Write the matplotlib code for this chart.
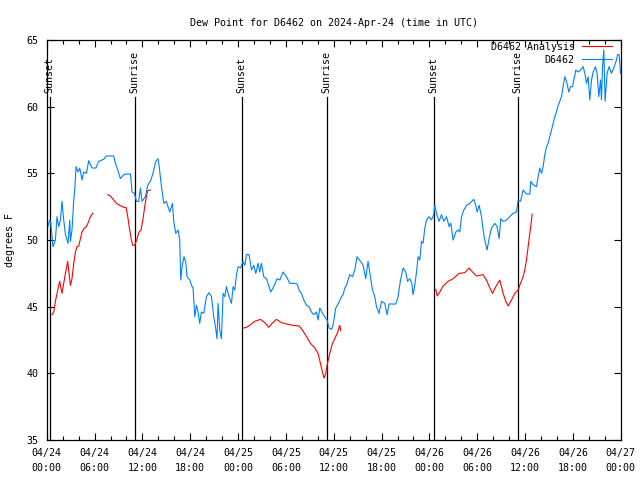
import numpy as np
import pandas as pd
import matplotlib
matplotlib.use('Agg')
import matplotlib.pyplot as plt
import matplotlib.dates as mdates

start = pd.Timestamp('2024-04-24 00:00')

# observed dew point (hours since 04/24 00:00 UTC, deg F)
obs_hours = [0.13, 0.38, 0.5, 0.79, 1.09, 1.29, 1.51, 1.72, 1.92, 2.13, 2.35, 2.67, 2.89, 2.97, 3.17,
             3.39, 3.51, 3.68, 3.93, 4.14, 4.43, 4.64, 4.98, 5.27, 5.68, 6.18, 6.52, 7.15, 7.44, 8.4,
             8.62, 8.91, 9.24, 9.66, 10.0, 10.5, 10.7, 11.0, 11.25, 11.54, 11.75, 11.95, 12.38, 12.67,
             13.0, 13.33, 13.67, 13.96, 14.09, 14.39, 14.68, 15.0, 15.43, 15.77, 15.93, 16.18, 16.47,
             16.68, 16.81, 16.97, 17.22, 17.44, 17.6, 17.94, 18.15, 18.35, 18.57, 18.78, 18.98, 19.19,
             19.4, 19.69, 20.03, 20.36, 20.66, 20.95, 21.16, 21.36, 21.49, 21.7, 21.91, 22.12, 22.33,
             22.54, 22.87, 23.17, 23.37, 23.58, 23.8, 24.0, 24.3, 24.62, 24.84, 25.05, 25.38, 25.68,
             25.97, 26.22, 26.51, 26.72, 26.93, 27.22, 27.56, 27.89, 28.1, 28.47, 28.89, 29.23, 29.64,
             30.07, 30.48, 31.11, 31.4, 31.65, 31.95, 32.24, 32.58, 32.9, 33.2, 33.49, 33.83, 34.03,
             34.25, 34.58, 34.87, 35.16, 35.41, 35.71, 35.91, 36.25, 36.59, 36.97, 37.17, 37.38, 37.59,
             38.0, 38.35, 38.64, 38.92, 39.35, 39.68, 40.01, 40.3, 40.6, 40.86, 41.14, 41.36, 41.68,
             41.99, 42.4, 42.69, 42.94, 43.78, 44.07, 44.37, 44.7, 45.03, 45.25, 45.53, 45.79, 45.95,
             46.16, 46.38, 46.58, 46.79, 47.0, 47.2, 47.42, 47.63, 47.95, 48.25, 48.54, 48.67, 48.88,
             49.21, 49.51, 49.8, 50.14, 50.47, 50.68, 50.97, 51.31, 51.6, 51.81, 52.02, 52.31, 52.65,
             53.06, 53.56, 53.81, 53.98, 54.23, 54.53, 54.73, 54.94, 55.23, 55.48, 55.78, 56.2, 56.48,
             56.74, 56.95, 57.24, 57.66, 58.08, 58.49, 58.92, 59.12, 59.42, 59.75, 60.17, 60.59, 60.71,
             61.0, 61.43, 61.63, 61.84, 62.05, 62.26, 62.47, 62.68, 62.88, 63.1, 63.31, 63.51, 63.72,
             63.93, 64.14, 64.35, 64.56, 64.76, 64.98, 65.19, 65.48, 65.69, 65.94, 66.11, 66.36, 66.65,
             66.95, 67.27, 67.49, 67.7, 67.9, 68.11, 68.33, 68.53, 68.83, 69.03, 69.24, 69.46, 69.58,
             69.71, 69.87, 70.03, 70.28, 70.53, 70.83, 71.12, 71.46, 71.59, 71.79, 71.97]
obs_vals = [51.0, 51.5, 51.3, 49.5, 50.0, 51.75, 51.0, 51.5, 52.9, 51.5, 50.4, 49.75, 51.5, 49.9, 50.75,
            53.0, 53.75, 55.5, 55.1, 55.4, 54.5, 55.1, 55.0, 55.95, 55.4, 55.4, 55.9, 56.05, 56.3, 56.3,
            55.75, 55.25, 54.6, 54.9, 54.95, 54.95, 53.6, 53.5, 52.9, 52.9, 53.9, 52.9, 53.25, 54.1,
            54.4, 55.0, 55.9, 56.1, 55.6, 54.0, 52.75, 52.9, 52.1, 52.75, 51.4, 50.5, 50.75,
            50.0, 47.0, 48.0, 48.75, 48.3, 47.25, 47.0, 46.6, 46.4, 44.25, 45.1, 44.6, 43.75,
            44.6, 44.5, 45.75, 46.05, 45.75, 44.25, 43.5, 42.6, 45.25, 43.25, 42.6, 46.0, 45.75,
            46.5, 45.75, 45.25, 46.5, 46.25, 47.4, 48.0, 47.9, 48.4, 48.1, 48.9, 48.9, 47.75,
            48.1, 47.5, 48.25, 47.6, 48.25, 47.25, 47.1, 46.5, 46.1, 46.5, 47.1, 47.0, 47.6,
            47.25, 46.75, 46.75, 46.7, 46.25, 46.0, 45.5, 45.1, 45.0, 44.6, 44.4, 44.6, 44.0,
            44.9, 44.5, 44.25, 44.0, 43.4, 43.3, 43.6, 44.9, 45.25, 45.75, 45.9, 46.4, 46.6,
            47.4, 47.25, 47.75, 48.75, 48.4, 48.1, 47.1, 48.4, 47.25, 46.25, 45.75, 45.0, 44.5,
            45.4, 45.25, 44.4, 45.2, 45.2, 45.75, 47.0, 47.9, 47.6, 46.9, 47.1, 46.75, 45.9,
            46.6, 47.6, 48.75, 48.5, 49.9, 49.75, 50.9, 51.5, 51.75, 51.5, 51.9, 52.6, 52.0,
            51.4, 51.9, 51.4, 51.75, 51.0, 51.25, 50.0, 50.6, 50.75, 50.6, 51.75, 52.25, 52.6,
            52.75, 53.05, 52.6, 52.1, 52.6, 51.75, 50.75, 50.0, 49.25, 50.1, 50.9, 51.25, 51.0,
            50.1, 51.6, 51.4, 51.5, 51.75, 52.0, 52.1, 53.0, 52.9, 53.75, 53.45, 53.45, 54.4,
            54.15, 54.0, 54.75, 55.4, 55.0, 55.5, 56.4, 57.0, 57.25, 57.75, 58.25, 58.75, 59.25,
            59.6, 60.1, 60.4, 60.75, 61.5, 62.25, 61.9, 61.1, 61.5, 61.5, 62.0, 62.75, 62.6,
            62.75, 63.0, 62.5, 61.75, 62.25, 60.5, 62.0, 62.6, 63.0, 62.5, 60.75, 62.0, 60.5,
            63.0, 64.25, 60.4, 62.5, 63.0, 62.5, 62.9, 63.5, 63.9, 63.9, 62.5]

# analysis dew point, nan marks gaps between runs
ana_hours = [0.66, 0.88, 1.09, 1.38, 1.63, 1.92, 2.13, 2.35, 2.63, 2.8, 2.97, 3.17, 3.39, 3.6, 3.8,
             4.01, 4.23, 4.43, 4.73, 4.98, 5.27, 5.48, 5.77, 6.7,
             7.65, 7.99, 8.4, 8.74, 9.16, 9.66, 9.95, 10.16, 10.41, 10.62, 10.79, 11.04, 11.33, 11.58,
             11.83, 12.08, 12.29, 12.5, 12.67, 13.0, 18.0,
             24.71, 25.05, 25.46, 26.09, 26.81, 27.35, 27.85, 28.26, 28.81, 29.44, 30.07, 30.9, 31.65,
             32.07, 32.58, 33.08, 33.62, 34.03, 34.33, 34.58, 34.78, 35.0, 35.21, 35.5, 35.84, 36.13,
             36.47, 36.75, 36.88, 42.0,
             48.8, 48.96, 49.3, 49.71, 50.34, 50.97, 51.72, 52.43, 52.97, 53.4, 53.9, 54.73, 55.23,
             55.57, 55.91, 56.32, 56.82, 57.24, 57.58, 57.87, 58.29, 58.71, 59.12, 59.42, 59.75,
             59.96, 60.17, 60.38, 60.59, 60.75, 60.88]
ana_vals = [44.4, 44.6, 45.4, 46.25, 46.9, 46.0, 46.75, 47.5, 48.4, 47.5, 46.6, 47.1, 48.25, 49.1, 49.5,
            49.55, 50.1, 50.6, 50.9, 51.0, 51.4, 51.75, 52.0, np.nan,
            53.4, 53.3, 53.0, 52.75, 52.6, 52.45, 52.45, 51.75, 50.75, 50.0, 49.6, 49.6, 50.1, 50.6,
            50.75, 51.6, 52.5, 53.25, 53.7, 53.75, np.nan,
            43.4, 43.45, 43.6, 43.9, 44.05, 43.8, 43.45, 43.75, 44.05, 43.8, 43.7, 43.6, 43.55,
            43.25, 42.75, 42.25, 41.9, 41.5, 40.75, 40.1, 39.65, 40.0, 40.75, 41.5, 42.25, 42.6,
            43.05, 43.6, 43.2, np.nan,
            46.3, 45.8, 46.1, 46.55, 46.9, 47.1, 47.5, 47.55, 47.9, 47.6, 47.3, 47.4, 46.9,
            46.4, 46.0, 46.5, 47.0, 46.0, 45.4, 45.05, 45.5, 46.0, 46.25, 46.75, 47.25,
            47.75, 48.5, 49.5, 50.5, 51.25, 51.95]

sun_hours = [0.38, 11.04, 24.46, 35.12, 48.54, 59.08]
sun_labels = ['Sunset', 'Sunrise', 'Sunset', 'Sunrise', 'Sunset', 'Sunrise']

obs_t = start + pd.to_timedelta(obs_hours, unit='h')
ana_t = start + pd.to_timedelta(ana_hours, unit='h')
sun_t = start + pd.to_timedelta(sun_hours, unit='h')

plt.rcParams['font.family'] = 'DejaVu Sans Mono'
plt.rcParams['font.size'] = 7.2

fig = plt.figure(figsize=(6.4, 4.8), dpi=100)
ax = fig.add_axes([0.073, 0.0833, 0.897, 0.8334])

for t, lab in zip(sun_t, sun_labels):
    ax.plot([t, t], [35, 60.7], color='black', lw=0.9)
    ax.text(t, 61.0, lab, rotation=90, ha='center', va='bottom')

ax.plot(ana_t, ana_vals, color='#ff0000', lw=0.8, label='D6462 Analysis')
ax.plot(obs_t, obs_vals, color='#0080ff', lw=0.8, label='D6462')

ax.set_xlim(start, start + pd.Timedelta(hours=72))
ax.set_ylim(35, 65)
ax.set_yticks(range(35, 66, 5))
ax.xaxis.set_major_locator(mdates.HourLocator(byhour=[0, 6, 12, 18]))
ax.xaxis.set_minor_locator(mdates.HourLocator(interval=2))
ax.xaxis.set_major_formatter(mdates.DateFormatter('%m/%d\n%H:%M'))
ax.tick_params(which='both', direction='in', top=True, right=True, width=0.8)
ax.tick_params(which='major', length=5, pad=6)
ax.tick_params(which='minor', length=3)
for lbl in ax.get_xticklabels():
    lbl.set_linespacing(1.6)
for s in ax.spines.values():
    s.set_linewidth(0.9)

fig.text(10 / 640, 0.5, 'degrees F', rotation=90, ha='center', va='center')
ax.set_title('Dew Point for D6462 on 2024-Apr-24 (time in UTC)', fontsize=7.2, pad=10)
ax.legend(loc='upper right', bbox_to_anchor=(0.984, 0.995), frameon=False, markerfirst=False,
          handlelength=3.0, handletextpad=0.7, labelspacing=0.3, borderpad=0, borderaxespad=0)

fig.savefig('out.png', dpi=100)
